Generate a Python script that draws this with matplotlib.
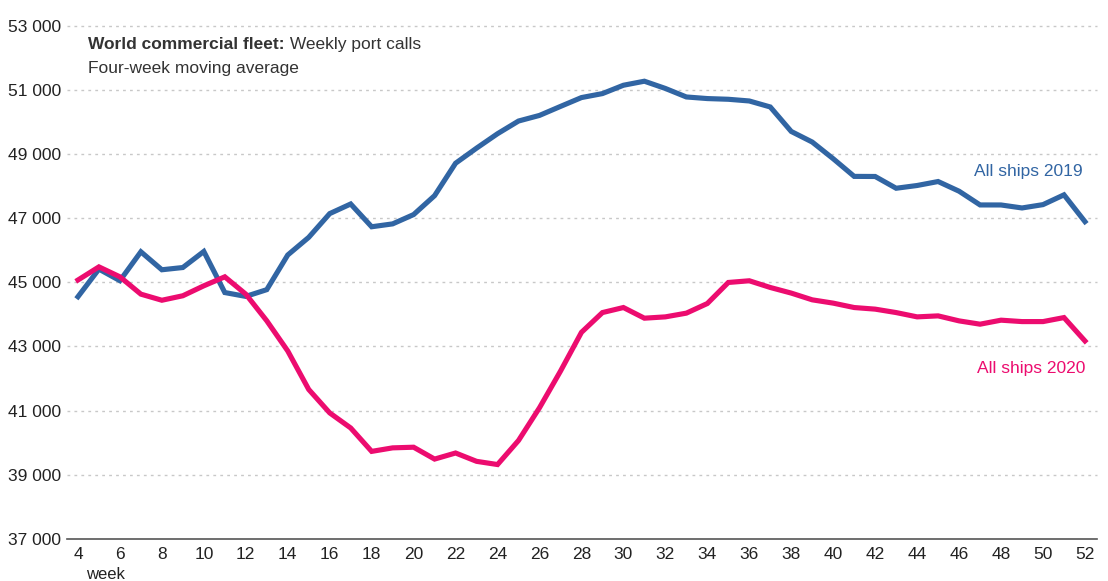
import matplotlib.pyplot as plt
from matplotlib.ticker import FuncFormatter

plt.rcParams['font.family'] = ['Liberation Sans', 'DejaVu Sans']

# weeks 4..52
weeks = list(range(4, 53))

# port calls, four-week moving average
ships_2019 = [44550, 45410, 45050, 45950, 45390, 45460, 45960, 44680, 44560, 44770,
              45850, 46400, 47140, 47440, 46730, 46820, 47110, 47700, 48710, 49180,
              49630, 50025, 50200, 50480, 50756, 50880, 51140, 51266, 51040, 50775,
              50725, 50703, 50650, 50463, 49700, 49370, 48850, 48300, 48297, 47930,
              48016, 48140, 47838, 47410, 47409, 47316, 47420, 47725, 46890]
ships_2020 = [45070, 45480, 45170, 44630, 44440, 44580, 44890, 45170, 44630, 43800,
              42860, 41660, 40930, 40460, 39730, 39840, 39860, 39490, 39680, 39420,
              39320, 40070, 41090, 42230, 43440, 44056, 44213, 43881, 43922, 44038,
              44338, 44994, 45047, 44838, 44663, 44453, 44350, 44213, 44163, 44056,
              43922, 43953, 43797, 43694, 43819, 43775, 43775, 43900, 43172]

y_ticks = list(range(37000, 53001, 2000))
x_ticks = list(range(4, 53, 2))

blue = '#3165a3'
pink = '#ec0c6f'

fig = plt.figure(figsize=(11.08, 5.81), dpi=100)
ax = fig.add_axes([0.0605, 0.0723, 0.9295, 0.8837])

# dotted grid
for v in y_ticks[1:]:
    ax.axhline(v, color='#c8c8c8', linestyle=(0, (2, 3)), linewidth=1, clip_on=False, zorder=1)

ax.plot(weeks, ships_2019, color=blue, linewidth=3.7, solid_joinstyle='miter', zorder=3)
ax.plot(weeks, ships_2020, color=pink, linewidth=3.7, solid_joinstyle='miter', zorder=3)

ax.set_xlim(3.48, 52.57)
ax.set_ylim(37000, 53000)
ax.set_yticks(y_ticks)
ax.set_xticks(x_ticks)
ax.yaxis.set_major_formatter(FuncFormatter(lambda v, p: f'{int(v):,}'.replace(',', ' ')))
ax.tick_params(axis='both', length=0, labelsize=12.5, colors='#222222')
ax.tick_params(axis='y', pad=4)
ax.tick_params(axis='x', pad=6)

for s in ['top', 'right', 'left']:
    ax.spines[s].set_visible(False)
ax.spines['bottom'].set_color('#555555')
ax.spines['bottom'].set_linewidth(1.2)

# titles
ax.text(4.48, 52400, 'World commercial fleet:', fontsize=12.5, fontweight='bold',
        color='#333333', va='center', ha='left')
ax.annotate(' Weekly port calls', xy=(1, 0.5), xycoords=ax.texts[-1], fontsize=12.5,
            color='#333333', va='center', ha='left')
ax.text(4.48, 51650, 'Four-week moving average', fontsize=12.5, color='#333333',
        va='center', ha='left')

ax.text(51.9, 48450, 'All ships 2019', fontsize=12.5, color=blue, ha='right', va='center')
ax.text(52.0, 42300, 'All ships 2020', fontsize=12.5, color=pink, ha='right', va='center')

ax.text(5.3, 35900, 'week', fontsize=12, color='#222222', ha='center', va='center',
        clip_on=False)

fig.savefig('out.png', dpi=100)
